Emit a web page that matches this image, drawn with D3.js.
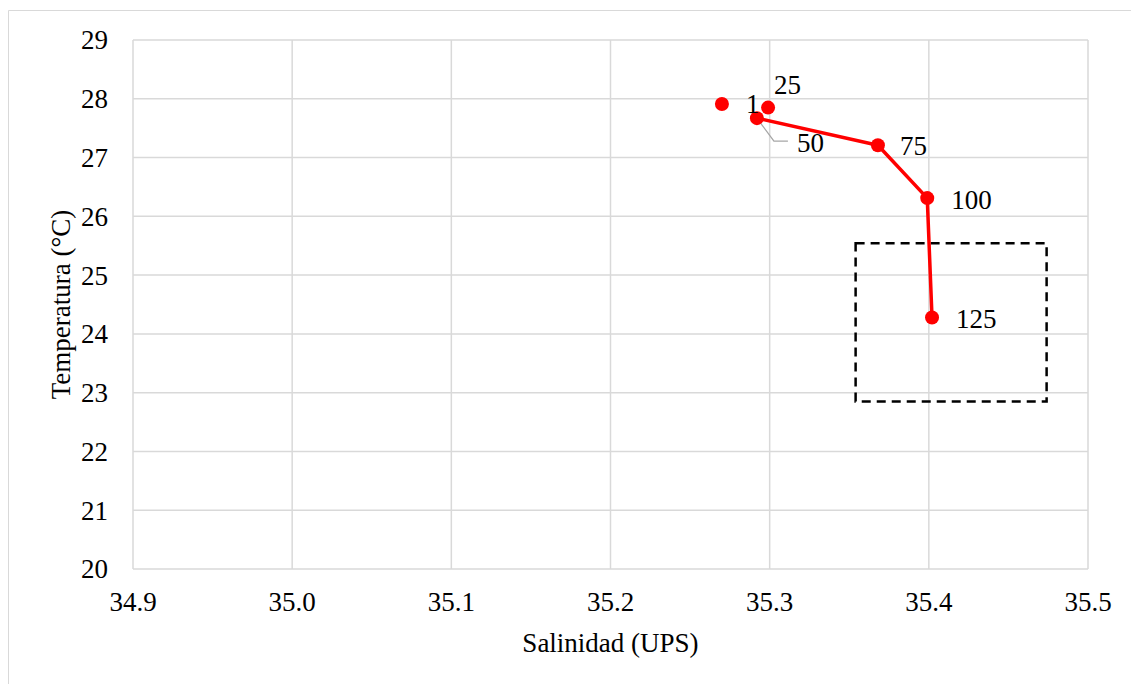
<!DOCTYPE html>
<html>
<head>
<meta charset="utf-8">
<script src="https://cdn.jsdelivr.net/npm/d3@7"></script>
<style>
  body { margin: 0; background: #fff; }
  text { font-family: "Liberation Serif", "Times New Roman", serif; fill: #000; }
</style>
</head>
<body>
<div id="chart"></div>
<script>
// data (profundidad en m)
const depths = ["1", "25", "50", "75", "100", "125"];
const salinity = [35.27, 35.299, 35.292, 35.368, 35.399, 35.402];
const temperature = [27.91, 27.85, 27.67, 27.21, 26.31, 24.28];
// indices of points joined by the line
const lineIdx = [2, 3, 4, 5];
const xTicks = [34.9, 35.0, 35.1, 35.2, 35.3, 35.4, 35.5];
const yTicks = [20, 21, 22, 23, 24, 25, 26, 27, 28, 29];
// dashed box [salMin, salMax, tempMin, tempMax]
const box = [35.354, 35.474, 22.85, 25.54];

const W = 1131, H = 684;
const margin = { top: 40, right: 43, bottom: 115, left: 133 };
const width = W - margin.left - margin.right,
  height = H - margin.top - margin.bottom;

const root = d3.select("#chart").append("svg").attr("width", W).attr("height", H);

// outer chart frame (only top and left visible)
root.append("line").attr("x1", 8.5).attr("x2", W).attr("y1", 10.5).attr("y2", 10.5)
  .attr("stroke", "#d9d9d9").attr("stroke-width", 1);
root.append("line").attr("x1", 8.5).attr("x2", 8.5).attr("y1", 10.5).attr("y2", H)
  .attr("stroke", "#d9d9d9").attr("stroke-width", 1);

const svg = root.append("g").attr("transform", `translate(${margin.left},${margin.top})`);

const x = d3.scaleLinear().domain([34.9, 35.5]).range([0, width]);
const y = d3.scaleLinear().domain([20, 29]).range([height, 0]);

// gridlines
svg.append("g").selectAll("line.v").data(xTicks).enter().append("line")
  .attr("x1", (d) => x(d)).attr("x2", (d) => x(d))
  .attr("y1", 0).attr("y2", height)
  .attr("stroke", "#d9d9d9").attr("stroke-width", 1.5);
svg.append("g").selectAll("line.h").data(yTicks).enter().append("line")
  .attr("x1", 0).attr("x2", width)
  .attr("y1", (d) => y(d)).attr("y2", (d) => y(d))
  .attr("stroke", "#d9d9d9").attr("stroke-width", 1.5);

// tick labels
svg.append("g").selectAll("text").data(xTicks).enter().append("text")
  .attr("x", (d) => x(d)).attr("y", height + 42)
  .attr("text-anchor", "middle").style("font-size", "27px")
  .text((d) => d3.format(".1f")(d));
svg.append("g").selectAll("text").data(yTicks).enter().append("text")
  .attr("x", -25).attr("y", (d) => y(d)).attr("dy", "0.35em")
  .attr("text-anchor", "end").style("font-size", "27px")
  .text((d) => d);

// axis titles
svg.append("text").attr("x", width / 2).attr("y", height + 83)
  .attr("text-anchor", "middle").style("font-size", "27px").text("Salinidad (UPS)");
svg.append("text")
  .attr("transform", `translate(-63,${height / 2}) rotate(-90)`)
  .attr("text-anchor", "middle").style("font-size", "27px").text("Temperatura (°C)");

// dashed box
svg.append("rect")
  .attr("x", x(box[0])).attr("y", y(box[3]))
  .attr("width", x(box[1]) - x(box[0])).attr("height", y(box[2]) - y(box[3]))
  .attr("fill", "none").attr("stroke", "#000").attr("stroke-width", 2.5)
  .attr("stroke-dasharray", "9,6");

// line
const line = d3.line().x((i) => x(salinity[i])).y((i) => y(temperature[i]));
svg.append("path").datum(lineIdx).attr("d", line)
  .attr("fill", "none").attr("stroke", "#ff0000").attr("stroke-width", 3.5)
  .attr("stroke-linejoin", "round");

// leader line for label 50
const p50x = x(salinity[2]), p50y = y(temperature[2]);
svg.append("path")
  .attr("d", `M${p50x},${p50y} L${p50x + 17},${p50y + 23} L${p50x + 31},${p50y + 23}`)
  .attr("fill", "none").attr("stroke", "#a6a6a6").attr("stroke-width", 1.3);

// points
svg.append("g").selectAll("circle").data(depths).enter().append("circle")
  .attr("cx", (d, i) => x(salinity[i])).attr("cy", (d, i) => y(temperature[i]))
  .attr("r", 7).attr("fill", "#ff0000");

// data labels (offsets in px from each point)
const labelOffsets = [[24, 9], [6, -14], [40, 34], [22, 10], [24, 11], [24, 11]];
svg.append("g").selectAll("text").data(depths).enter().append("text")
  .attr("x", (d, i) => x(salinity[i]) + labelOffsets[i][0])
  .attr("y", (d, i) => y(temperature[i]) + labelOffsets[i][1])
  .style("font-size", "27px")
  .text((d) => d);
</script>
</body>
</html>
